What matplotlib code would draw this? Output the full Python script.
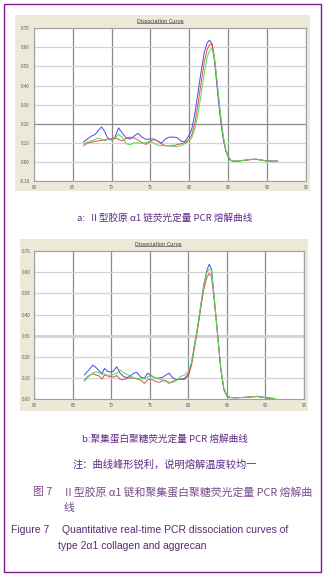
import matplotlib
matplotlib.use("Agg")
import matplotlib.pyplot as plt
from matplotlib.patches import Rectangle
from matplotlib.lines import Line2D

plt.rcParams['font.family'] = ['Noto Sans CJK SC', 'DejaVu Sans']

# ---- data: chart a (type II collagen alpha1) ----
temps_a = [66.4, 66.9, 67.4, 67.9, 68.3, 68.7, 69.1, 69.5, 70.0, 70.4, 70.9, 71.4, 71.9, 72.4,
           72.9, 73.4, 73.9, 74.4, 74.9, 75.4, 75.9, 76.4, 76.9, 77.4, 77.9, 78.4, 78.9, 79.4,
           79.9, 80.3, 80.7, 81.1, 81.5, 81.9, 82.3, 82.6, 82.9, 83.2, 83.5, 83.8, 84.1, 84.4,
           84.7, 85.0, 85.3, 85.7, 86.2, 86.8, 87.4, 88.0, 88.6, 89.2, 89.8, 90.4, 91.0, 91.3]
blue_a = [0.105, 0.120, 0.135, 0.145, 0.165, 0.183, 0.160, 0.125, 0.115, 0.125, 0.178, 0.150,
          0.125, 0.120, 0.135, 0.150, 0.130, 0.118, 0.120, 0.120, 0.110, 0.098, 0.120, 0.130,
          0.130, 0.128, 0.110, 0.105, 0.135, 0.170, 0.250, 0.360, 0.470, 0.570, 0.625, 0.638,
          0.620, 0.540, 0.420, 0.300, 0.190, 0.110, 0.055, 0.025, 0.008, 0.003, 0.004, 0.007,
          0.010, 0.013, 0.014, 0.010, 0.006, 0.005, 0.004, 0.005]
red_a = [0.085, 0.098, 0.103, 0.108, 0.110, 0.113, 0.116, 0.118, 0.122, 0.127, 0.118, 0.110,
         0.125, 0.130, 0.125, 0.115, 0.102, 0.092, 0.105, 0.118, 0.110, 0.095, 0.085, 0.084,
         0.086, 0.090, 0.095, 0.100, 0.115, 0.140, 0.200, 0.300, 0.410, 0.520, 0.590, 0.615,
         0.618, 0.560, 0.440, 0.320, 0.210, 0.120, 0.060, 0.028, 0.010, 0.004, 0.004, 0.007,
         0.010, 0.013, 0.013, 0.010, 0.006, 0.004, 0.004, 0.004]
green_a = [0.095, 0.105, 0.110, 0.118, 0.125, 0.118, 0.110, 0.118, 0.115, 0.122, 0.145, 0.128,
           0.095, 0.090, 0.100, 0.100, 0.098, 0.100, 0.110, 0.100, 0.088, 0.085, 0.085, 0.084,
           0.082, 0.080, 0.085, 0.095, 0.110, 0.125, 0.170, 0.250, 0.350, 0.460, 0.550, 0.585,
           0.594, 0.555, 0.450, 0.330, 0.215, 0.125, 0.062, 0.030, 0.010, 0.004, 0.005, 0.008,
           0.011, 0.014, 0.015, 0.011, 0.006, 0.004, 0.004, 0.005]

# ---- data: chart b (aggrecan) ----
temps_b = [66.5, 67.0, 67.6, 68.0, 68.4, 68.8, 69.1, 69.5, 70.0, 70.3, 70.7, 71.1, 71.5, 72.0,
           72.5, 73.0, 73.3, 73.8, 74.3, 74.7, 75.2, 75.7, 76.2, 76.7, 77.1, 77.5, 78.0, 78.5,
           79.0, 79.5, 80.0, 80.4, 80.8, 81.2, 81.6, 82.0, 82.4, 82.7, 83.0, 83.4, 83.8, 84.2,
           84.6, 85.0, 85.4, 86.0, 86.6, 87.2, 87.8, 88.4, 89.0, 89.6, 90.2, 90.7, 91.2]
blue_b = [0.115, 0.135, 0.162, 0.150, 0.135, 0.120, 0.146, 0.132, 0.128, 0.135, 0.154, 0.125,
          0.110, 0.102, 0.112, 0.125, 0.127, 0.105, 0.100, 0.123, 0.112, 0.100, 0.100, 0.105,
          0.115, 0.123, 0.100, 0.093, 0.095, 0.098, 0.120, 0.170, 0.256, 0.340, 0.440, 0.540,
          0.610, 0.637, 0.615, 0.460, 0.300, 0.140, 0.045, 0.015, 0.008, 0.007, 0.008, 0.009,
          0.010, 0.012, 0.013, 0.010, 0.007, 0.005, 0.004]
red_b = [0.090, 0.110, 0.120, 0.115, 0.110, 0.095, 0.115, 0.110, 0.105, 0.105, 0.112, 0.095,
         0.092, 0.098, 0.102, 0.100, 0.096, 0.090, 0.075, 0.092, 0.095, 0.085, 0.080, 0.088,
         0.085, 0.075, 0.085, 0.092, 0.095, 0.094, 0.110, 0.160, 0.245, 0.330, 0.430, 0.520,
         0.575, 0.594, 0.580, 0.450, 0.300, 0.145, 0.050, 0.017, 0.009, 0.007, 0.008, 0.009,
         0.011, 0.013, 0.014, 0.010, 0.006, 0.004, 0.003]
green_b = [0.085, 0.105, 0.125, 0.130, 0.125, 0.118, 0.120, 0.112, 0.115, 0.118, 0.122, 0.140,
           0.128, 0.118, 0.110, 0.100, 0.100, 0.098, 0.095, 0.105, 0.110, 0.100, 0.095, 0.092,
           0.088, 0.082, 0.080, 0.090, 0.108, 0.115, 0.130, 0.175, 0.260, 0.345, 0.445, 0.540,
           0.600, 0.615, 0.610, 0.460, 0.305, 0.150, 0.052, 0.018, 0.009, 0.008, 0.008, 0.009,
           0.010, 0.012, 0.013, 0.010, 0.006, 0.005, 0.004]

x_ticks = [60, 65, 70, 75, 80, 85, 90, 95]
yticks_a = [-0.10, 0.00, 0.10, 0.20, 0.30, 0.40, 0.50, 0.60, 0.70]
yticks_b = [0.00, 0.10, 0.20, 0.30, 0.40, 0.50, 0.60, 0.70]

W, H = 327, 576
fig = plt.figure(figsize=(W / 100, H / 100), dpi=100)
fig.patch.set_facecolor('white')


def px(x0, y0, x1, y1):
    # pixel box -> figure fraction [left, bottom, width, height]
    return [x0 / W, 1 - y1 / H, (x1 - x0) / W, (y1 - y0) / H]


# purple frame and beige panels (drawn behind the axes)
fig.patches.append(Rectangle((3.5 / W, 1 - 572 / H), (321 - 3.5) / W, (572 - 3.5) / H,
                             transform=fig.transFigure, fill=False, ec='#7a1a8a', lw=1.0,
                             zorder=0))
for box in [(15, 15, 310, 191), (20, 239, 308, 411)]:
    l, b, w, h = px(*box)
    fig.patches.append(Rectangle((l, b), w, h, transform=fig.transFigure,
                                 fc='#ece9d8', ec='none', zorder=0))


def melt_panel(rect, temps, curves, yticks, title_x, dark_y=None, thick_y=None):
    ax = fig.add_axes(rect)
    ax.set_zorder(3)
    ax.set_facecolor('white')
    for vals, col in curves:
        ax.plot(temps, vals, color=col, lw=0.7)
    ax.set_xlim(60, 95)
    ax.set_ylim(yticks[0], yticks[-1])
    ax.set_xticks(x_ticks)
    ax.set_yticks(yticks)
    ax.set_xticklabels([str(t) for t in x_ticks])
    ax.set_yticklabels(['%.2f' % v for v in yticks])
    ax.tick_params(length=0, labelsize=3.2, colors='#555555', pad=3)
    ax.xaxis.grid(True, color='#8a8a8a', lw=0.9)
    ax.yaxis.grid(True, color='#d2d2d2', lw=0.9)
    ax.set_axisbelow(True)
    for i, v in enumerate(yticks):
        if dark_y is not None and abs(v - dark_y) < 1e-9:
            ax.get_ygridlines()[i].set_color('#8a8a8a')
        if thick_y is not None and abs(v - thick_y) < 1e-9:
            ax.get_ygridlines()[i].set_linewidth(2.0)
    for s in ax.spines.values():
        s.set_color('#a0a0a0')
        s.set_linewidth(0.8)
    t = ax.text(title_x, 1.03, 'Dissociation Curve', transform=ax.transAxes,
                ha='center', va='bottom', fontsize=3.6, color='#333333',
                family=['DejaVu Sans'])
    return ax, t


ax_a, t_a = melt_panel(px(33.8, 28.3, 306, 181), temps_a,
                       [(blue_a, '#4a4ae8'), (red_a, '#e84a4a'), (green_a, '#4ee04e')],
                       yticks_a, 0.463, dark_y=0.20)
ax_b, t_b = melt_panel(px(34.3, 251, 304, 399.3), temps_b,
                       [(blue_b, '#4a4ae8'), (red_b, '#e84a4a'), (green_b, '#4ee04e')],
                       yticks_b, 0.459, thick_y=0.30)

# underline the titles
fig.canvas.draw()
for t in (t_a, t_b):
    bb = t.get_window_extent().transformed(fig.transFigure.inverted())
    fig.add_artist(Line2D([bb.x0, bb.x1], [bb.y0 + 0.001, bb.y0 + 0.001],
                          transform=fig.transFigure, color='#333333', lw=0.4, zorder=5))

cap = '#5e2a84'
fig.text(165 / W, 1 - 218 / H, 'a:  Ⅱ型胶原 α1 链荧光定量 PCR 熔解曲线',
         ha='center', va='center', fontsize=6.9, color=cap)
fig.text(165 / W, 1 - 439 / H, 'b:聚集蛋白聚糖荧光定量 PCR 熔解曲线',
         ha='center', va='center', fontsize=6.9, color=cap)
fig.text(164.5 / W, 1 - 465 / H, '注：曲线峰形锐利，说明熔解温度较均一',
         ha='center', va='center', fontsize=7.4, color=cap)

fig_cn = '#7a4a8c'
fig.text(33 / W, 1 - 492 / H, '图 7', ha='left', va='center', fontsize=7.8, color=fig_cn)
fig.text(63 / W, 1 - 492 / H, 'Ⅱ型胶原 α1 链和聚集蛋白聚糖荧光定量 PCR 熔解曲',
         ha='left', va='center', fontsize=7.8, color=fig_cn)
fig.text(63 / W, 1 - 508 / H, '线', ha='left', va='center', fontsize=7.8, color=fig_cn)

fig_en = '#5a2a72'
en_font = ['Liberation Sans', 'DejaVu Sans']
fig.text(11 / W, 1 - 530 / H, 'Figure 7', ha='left', va='center', fontsize=7.5,
         color=fig_en, family=en_font)
fig.text(62 / W, 1 - 530 / H, 'Quantitative real-time PCR dissociation curves of',
         ha='left', va='center', fontsize=7.5, color=fig_en, family=en_font)
fig.text(58 / W, 1 - 546 / H, 'type 2α1 collagen and aggrecan',
         ha='left', va='center', fontsize=7.5, color=fig_en, family=en_font)

fig.savefig('out.png', dpi=100)
